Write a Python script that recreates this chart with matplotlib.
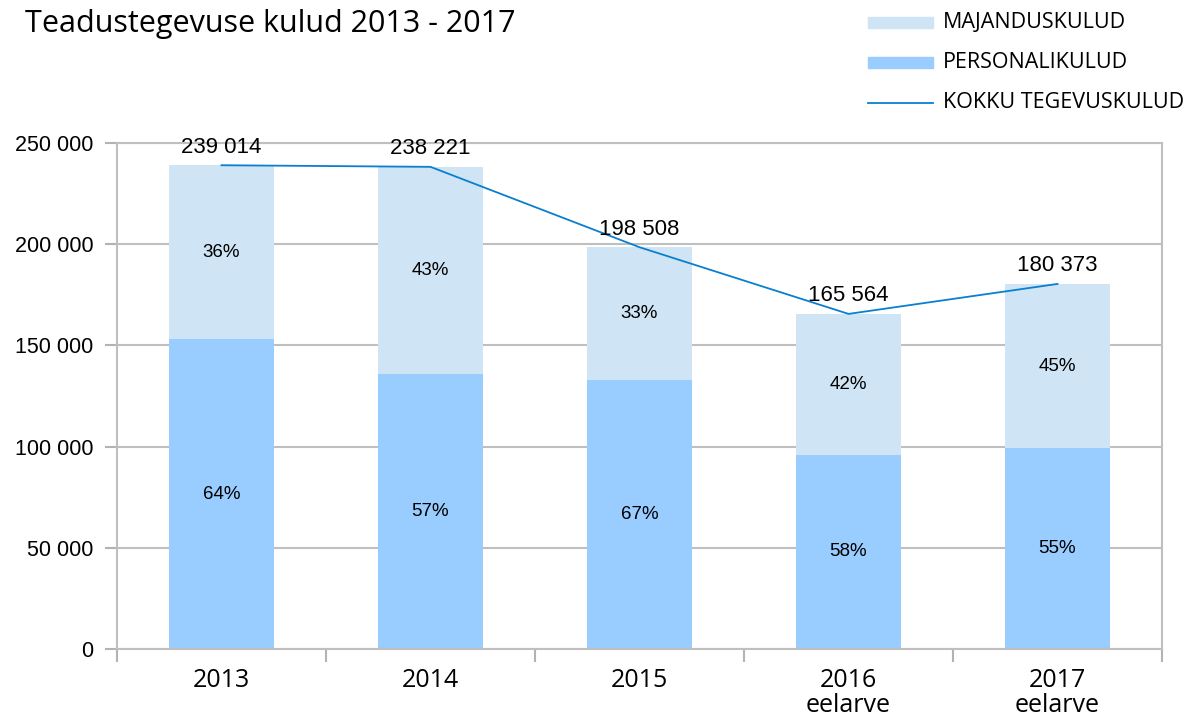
import matplotlib.pyplot as plt
from matplotlib.patches import Rectangle
from matplotlib.lines import Line2D
import numpy as np

years = ['2013', '2014', '2015', '2016\neelarve', '2017\neelarve']
kokku = [239014, 238221, 198508, 165564, 180373]
personal = [152970, 135786, 133000, 96027, 99205]
pers_pct = ['64%', '57%', '67%', '58%', '55%']
maj_pct = ['36%', '43%', '33%', '42%', '45%']

majandus = [k - p for k, p in zip(kokku, personal)]

W, H = 1189, 718
fig = plt.figure(figsize=(W / 100, H / 100), dpi=100)
ax = fig.add_axes([117 / W, 1 - 649 / H, (1162 - 117) / W, (649 - 143) / H])

c_maj = '#cfe4f4'
c_pers = '#99ccff'
c_line = '#0a7fd0'

x = np.arange(len(years))
ax.bar(x, personal, width=0.5, color=c_pers, zorder=2)
ax.bar(x, majandus, width=0.5, bottom=personal, color=c_maj, zorder=2)
ax.plot(x, kokku, color=c_line, lw=1.3, zorder=3)

for i in range(len(x)):
    ax.text(x[i], personal[i] / 2, pers_pct[i], ha='center', va='center',
            fontsize=13.5, family='Liberation Sans', zorder=4)
    ax.text(x[i], personal[i] + majandus[i] / 2, maj_pct[i], ha='center', va='center',
            fontsize=13.5, family='Liberation Sans', zorder=4)
    ax.annotate(f'{kokku[i]:,}'.replace(',', ' '), (x[i], kokku[i]), xytext=(0, 13),
                textcoords='offset points', ha='center', va='center',
                fontsize=16, family='Liberation Sans', zorder=4)

ax.set_xlim(-0.5, 4.5)
ax.set_ylim(0, 250000)
ax.set_yticks(np.arange(0, 250001, 50000))
ax.set_yticklabels([f'{v:,}'.replace(',', ' ') for v in range(0, 250001, 50000)],
                   family='Liberation Sans', fontsize=15.5)
ax.yaxis.grid(True, color='#bfbfbf', lw=1.5, zorder=0)
ax.set_xticks(np.arange(-0.5, 4.6, 1))
ax.set_xticklabels([])
ax.set_xticks(x, minor=True)
ax.set_xticklabels(years, minor=True, fontsize=18, family='Open Sans', linespacing=1.0)
ax.tick_params(axis='x', which='minor', length=0, pad=14)
ax.tick_params(axis='x', which='major', length=9, width=1.5, color='#b3b3b3')
ax.tick_params(axis='y', length=9, width=1.5, color='#b3b3b3', pad=8)
for s in ax.spines.values():
    s.set_color('#bfbfbf')
    s.set_linewidth(1.5)

fig.text(25 / W, 1 - 24 / H, 'Teadustegevuse kulud 2013 - 2017', fontsize=22,
         family='Open Sans', va='center')

# legend
leg_items = [('MAJANDUSKULUD', 'patch', c_maj, 22),
             ('PERSONALIKULUD', 'patch', c_pers, 62),
             ('KOKKU TEGEVUSKULUD', 'line', c_line, 103)]
for lab, kind, col, yc in leg_items:
    if kind == 'patch':
        fig.patches.append(Rectangle((868 / W, 1 - (yc + 5.5) / H), 65 / W, 11 / H,
                                     transform=fig.transFigure, color=col))
    else:
        fig.lines.append(Line2D([868 / W, 933 / W], [1 - yc / H, 1 - yc / H],
                                transform=fig.transFigure, color=col, lw=1.3))
    fig.text(943 / W, 1 - yc / H, lab, fontsize=15.5, family='Open Sans', va='center')

fig.savefig('out.png', dpi=100)
